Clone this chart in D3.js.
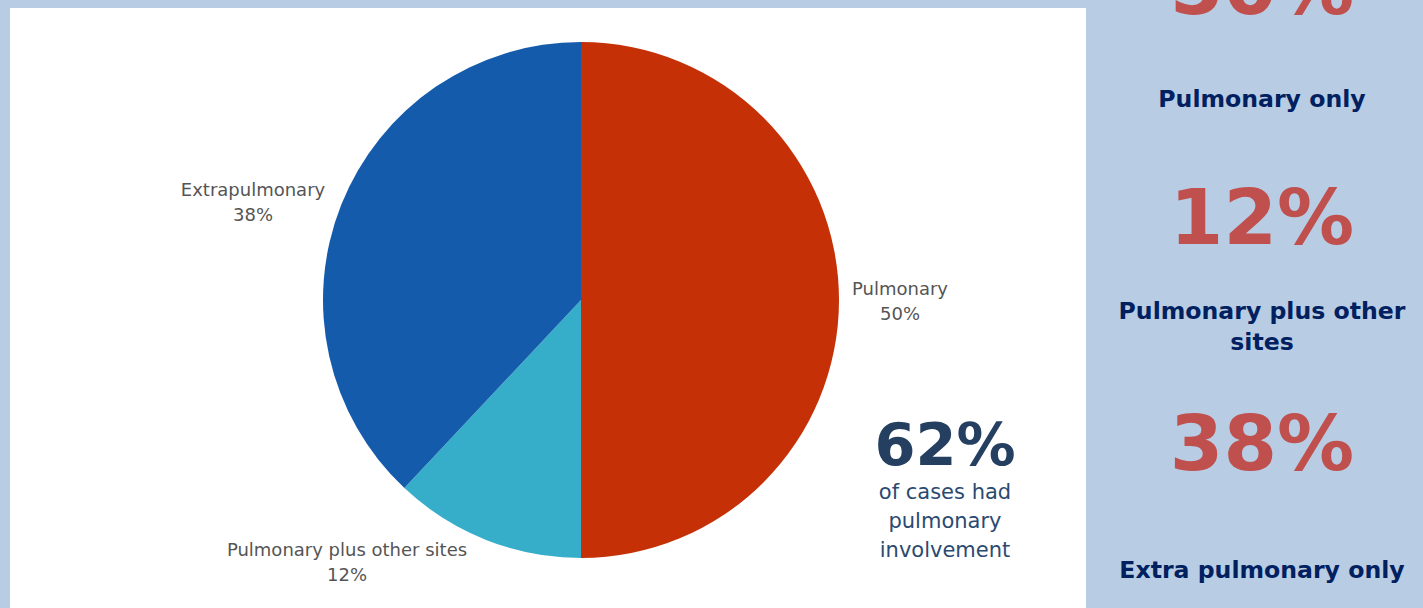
<!DOCTYPE html>
<html>
<head>
<meta charset="utf-8">
<script src="https://cdn.jsdelivr.net/npm/d3@7"></script>
<style>
  html, body { margin: 0; padding: 0; background: #b8cce4; }
  svg { display: block; }
</style>
</head>
<body>
<svg id="chart" width="1423" height="608"></svg>
<script>
// TB case site breakdown
const categories = ["Pulmonary", "Pulmonary plus other sites", "Extrapulmonary"];
const shares = [50, 12, 38];
const sliceColors = ["#c53007", "#36aeca", "#155bab"];

// Side panel figures
const panelValues = [50, 12, 38];
const panelCaptions = [["Pulmonary only"], ["Pulmonary plus other", "sites"], ["Extra pulmonary only"]];

const highlightValue = 62;
const highlightLines = ["of cases had", "pulmonary", "involvement"];

const svg = d3.select("#chart");
const W = 1423, H = 608;
const FONT = "DejaVu Sans, Verdana, sans-serif";

svg.append("rect").attr("width", W).attr("height", H).attr("fill", "#b8cce4");
svg.append("rect").attr("x", 10).attr("y", 8).attr("width", 1076).attr("height", H - 8).attr("fill", "#ffffff");

const cx = 581, cy = 300, r = 258;
const data = categories.map((c, i) => ({ name: c, value: shares[i], color: sliceColors[i] }));

const pie = d3.pie().value(d => d.value).sort(null);
const arc = d3.arc().innerRadius(0).outerRadius(r);

const g = svg.append("g").attr("transform", `translate(${cx},${cy})`);
const arcs = pie(data);

g.selectAll("path.slice").data(arcs).join("path")
  .attr("class", "slice")
  .attr("d", arc)
  .attr("fill", d => d.data.color);

// Outside labels: pushed out along each slice's mid-angle, then nudged clear of the rim
const labelRadius = r * 1.25;
const labelNudge = [[0, -11], [-20, 0], [0, 0]];
const lbl = g.selectAll("text.lbl").data(arcs).join("text")
  .attr("class", "lbl")
  .attr("text-anchor", "middle")
  .attr("font-family", FONT)
  .attr("font-size", 18)
  .attr("fill", "#555555")
  .attr("transform", d => {
    const mid = (d.startAngle + d.endAngle) / 2;
    let x = Math.sin(mid) * labelRadius;
    let y = -Math.cos(mid) * labelRadius;
    if (d.index === 0) { x = r + 61; y = -5; }
    if (d.index === 1) { x = -234; y = 256; }
    if (d.index === 2) { x = -328; y = -104; }
    return `translate(${x},${y})`;
  });
lbl.append("tspan").attr("x", 0).attr("dy", 0).text(d => d.data.name);
lbl.append("tspan").attr("x", 0).attr("dy", 25).text(d => d.data.value + "%");

// Highlight callout
const call = svg.append("g").attr("transform", "translate(945,0)");
call.append("text")
  .attr("y", 465).attr("text-anchor", "middle")
  .attr("font-family", FONT)
  .attr("font-weight", "bold").attr("font-size", 59)
  .attr("fill", "#243f60")
  .text(highlightValue + "%");
call.selectAll("text.sub").data(highlightLines).join("text")
  .attr("class", "sub")
  .attr("y", (d, i) => 499 + i * 29)
  .attr("text-anchor", "middle")
  .attr("font-family", FONT)
  .attr("font-size", 21)
  .attr("fill", "#2b4a70")
  .text(d => d);

// Side panel
const panelX = 1262;
const valueBaselines = [14, 244, 470];
const captionBaselines = [107, 319, 578];
const side = svg.append("g");
side.selectAll("text.val").data(panelValues).join("text")
  .attr("class", "val")
  .attr("x", panelX).attr("y", (d, i) => valueBaselines[i])
  .attr("text-anchor", "middle")
  .attr("font-family", FONT)
  .attr("font-weight", "bold").attr("font-size", 77)
  .attr("fill", "#c0504d")
  .text(d => d + "%");
panelCaptions.forEach((lines, i) => {
  lines.forEach((t, j) => {
    side.append("text")
      .attr("x", panelX).attr("y", captionBaselines[i] + j * 31)
      .attr("text-anchor", "middle")
      .attr("font-family", FONT)
      .attr("font-weight", "bold").attr("font-size", 23.6)
      .attr("fill", "#002060")
      .text(t);
  });
});
</script>
</body>
</html>
